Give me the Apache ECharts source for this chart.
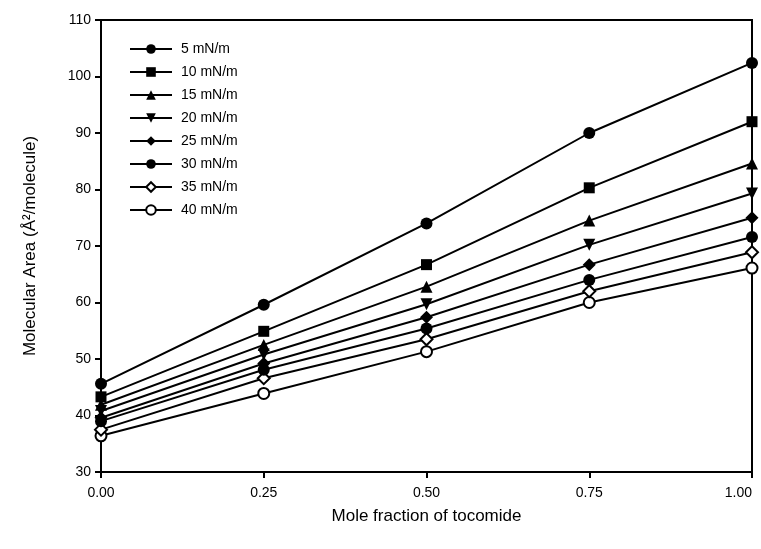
<!DOCTYPE html>
<html>
<head>
<meta charset="utf-8">
<script src="https://cdn.jsdelivr.net/npm/echarts@6/dist/echarts.min.js"></script>
<style>html,body{margin:0;padding:0;background:#fff;}#c{width:761px;height:549px;}</style>
</head>
<body>
<div id="c"></div>
<script>
var xValues = [0.00, 0.25, 0.50, 0.75, 1.00];
var seriesNames = ['5 mN/m', '10 mN/m', '15 mN/m', '20 mN/m', '25 mN/m', '30 mN/m', '35 mN/m', '40 mN/m'];
var s5  = [45.6, 59.6, 74.0, 90.0, 102.4];
var s10 = [43.3, 54.9, 66.7, 80.3, 92.0];
var s15 = [41.9, 52.5, 62.8, 74.5, 84.6];
var s20 = [40.8, 50.8, 59.7, 70.2, 79.3];
var s25 = [39.6, 49.2, 57.4, 66.7, 75.0];
var s30 = [39.0, 48.1, 55.4, 64.0, 71.6];
var s35 = [37.5, 46.6, 53.5, 62.0, 68.9];
var s40 = [36.4, 43.9, 51.3, 60.0, 66.1];
var yTicks = [30, 40, 50, 60, 70, 80, 90, 100, 110];

var allData = [s5, s10, s15, s20, s25, s30, s35, s40];
var symbols = ['circle', 'rect', 'triangle', 'triangle', 'diamond', 'circle', 'diamond', 'circle'];
var rotates = [0, 0, 0, 180, 0, 0, 0, 0];
var sizes = [12, 11, 12, 12, 13, 12, 12, 11];
var open = [false, false, false, false, false, false, true, true];
var font = 'Liberation Sans, Arial, sans-serif';

var series = allData.map(function (d, i) {
  return {
    name: seriesNames[i],
    type: 'line',
    data: d.map(function (v, j) { return [xValues[j], v]; }),
    symbol: symbols[i],
    symbolRotate: rotates[i],
    symbolSize: sizes[i],
    showAllSymbol: true,
    lineStyle: { color: '#000', width: 2 },
    itemStyle: open[i] ? { color: '#fff', borderColor: '#000', borderWidth: 2 } : { color: '#000', borderColor: '#000', borderWidth: 0 },
    emphasis: { disabled: true },
    z: 10 - i
  };
});

var chart = echarts.init(document.getElementById('c'), null, { renderer: 'canvas' });
chart.setOption({
  animation: false,
  backgroundColor: '#fff',
  grid: { left: 101, right: 9, top: 20, bottom: 77, show: true, borderColor: '#000', borderWidth: 2, backgroundColor: 'transparent', containLabel: false, outerBoundsMode: 'none' },
  legend: {
    orient: 'vertical',
    left: 124,
    top: 37,
    itemWidth: 42,
    itemHeight: 12,
    itemGap: 9,
    data: seriesNames,
    textStyle: { fontFamily: font, fontSize: 14, color: '#000', padding: [0, 0, 0, 4] },
    selectedMode: false
  },
  xAxis: {
    type: 'value',
    min: 0, max: 1, interval: 0.25,
    name: 'Mole fraction of tocomide',
    nameLocation: 'middle',
    nameGap: 36,
    nameTextStyle: { fontFamily: font, fontSize: 17, color: '#000' },
    axisLine: { lineStyle: { color: '#000', width: 2 } },
    axisTick: { show: true, length: 6, lineStyle: { color: '#000', width: 2 } },
    axisLabel: { fontFamily: font, fontSize: 14, color: '#000', margin: 14, alignMaxLabel: 'right', formatter: function (v) { return v.toFixed(2); } },
    splitLine: { show: false }
  },
  yAxis: {
    type: 'value',
    min: yTicks[0], max: yTicks[yTicks.length - 1], interval: 10,
    name: 'Molecular Area (Å²/molecule)',
    nameLocation: 'middle',
    nameGap: 62,
    nameRotate: 90,
    nameTextStyle: { fontFamily: font, fontSize: 17, color: '#000' },
    axisLine: { lineStyle: { color: '#000', width: 2 } },
    axisTick: { show: true, length: 6, lineStyle: { color: '#000', width: 2 } },
    axisLabel: { fontFamily: font, fontSize: 14, color: '#000', margin: 10 },
    splitLine: { show: false }
  },
  series: series
});
</script>
</body>
</html>
